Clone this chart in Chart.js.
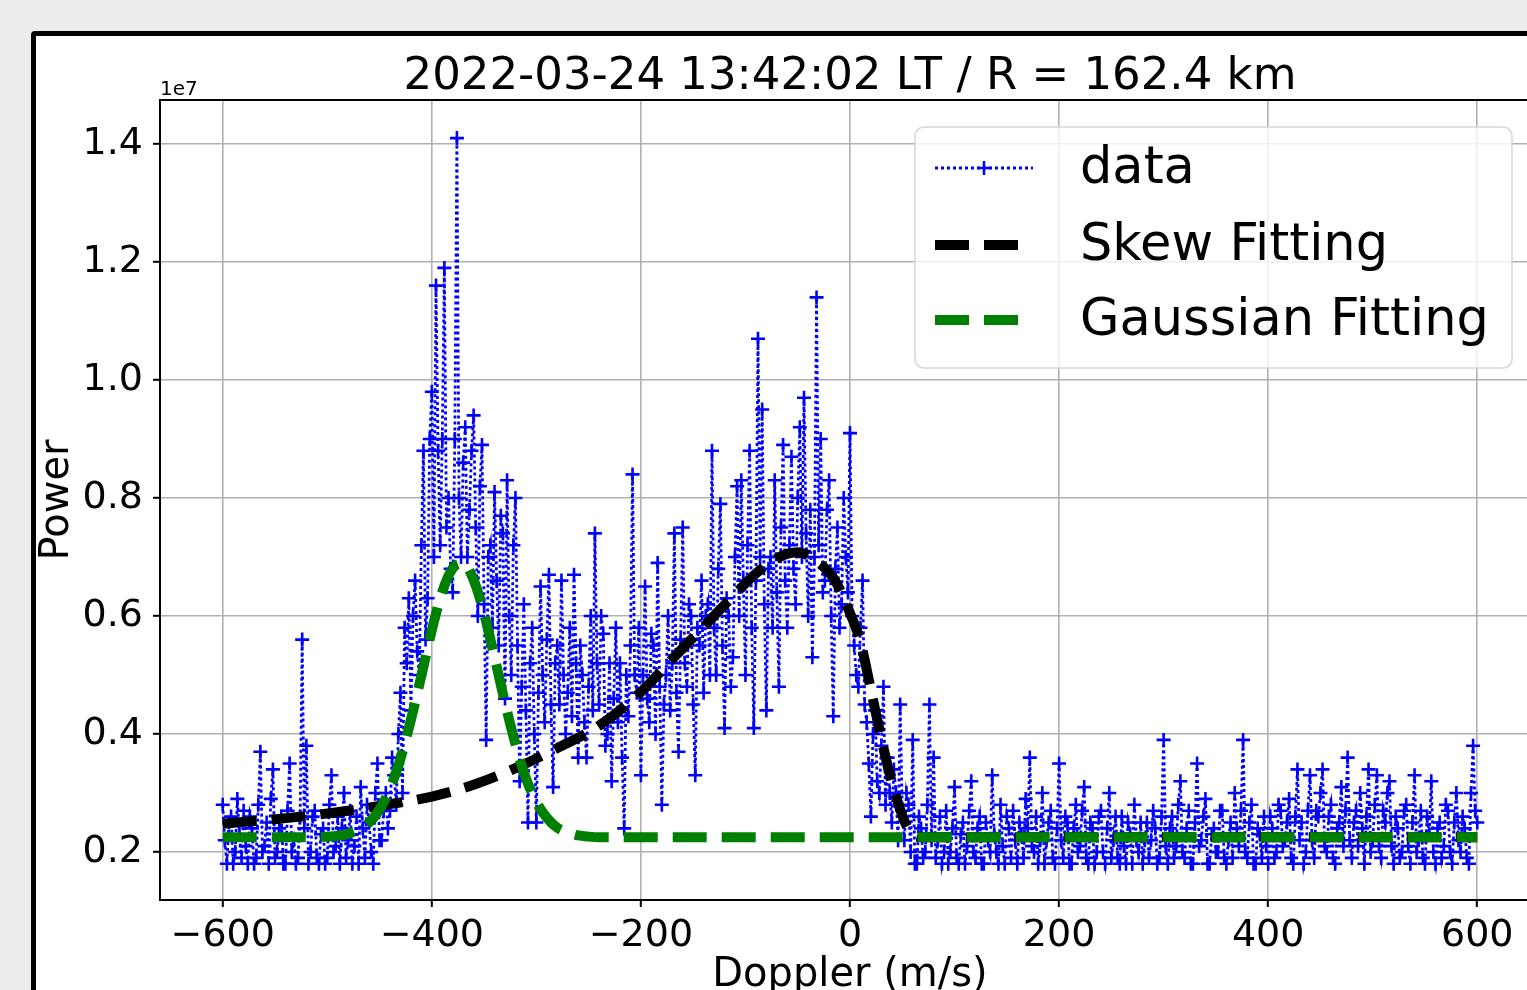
<!DOCTYPE html>
<html><head><meta charset="utf-8">
<script src="https://cdn.jsdelivr.net/npm/chart.js@4.4.0/dist/chart.umd.min.js"></script>
<style>
html,body{margin:0;padding:0;width:1527px;height:990px;overflow:hidden;background:#ececec;}
#frame{position:absolute;left:31px;top:31px;width:1700px;height:1100px;border:5px solid #000;border-radius:4px;background:#fff;box-sizing:border-box;}
#wrap{position:absolute;left:0;top:0;width:1600px;height:1000px;}
</style></head><body>
<div id="frame"></div>
<div id="wrap"><canvas id="c" width="1600" height="1000"></canvas></div>
<script>
const titleText = '2022-03-24 13:42:02 LT / R = 162.4 km';
const xLabel = 'Doppler (m/s)';
const yLabel = 'Power';
const yOffsetText = '1e7';
const xTicks = [-600, -400, -200, 0, 200, 400, 600];
const yTicks = [0.2, 0.4, 0.6, 0.8, 1.0, 1.2, 1.4];

const doppler = [
-600,-598,-596,-594,-592,-590,-588,-586,-584,-582,-580,-578,-576,-574,-572,-570,-568,-566,-564,-562,
-560,-558,-556,-554,-552,-550,-548,-546,-544,-542,-540,-538,-536,-534,-532,-530,-528,-526,-524,-522,
-520,-518,-516,-514,-512,-510,-508,-506,-504,-502,-500,-498,-496,-494,-492,-490,-488,-486,-484,-482,
-480,-478,-476,-474,-472,-470,-468,-466,-464,-462,-460,-458,-456,-454,-452,-450,-448,-446,-444,-442,
-440,-438,-436,-434,-432,-430,-428,-426,-424,-422,-420,-418,-416,-414,-412,-410,-408,-406,-404,-402,
-400,-398,-396,-394,-392,-390,-388,-386,-384,-382,-380,-378,-376,-374,-372,-370,-368,-366,-364,-362,
-360,-358,-356,-354,-352,-350,-348,-346,-344,-342,-340,-338,-336,-334,-332,-330,-328,-326,-324,-322,
-320,-318,-316,-314,-312,-310,-308,-306,-304,-302,-300,-298,-296,-294,-292,-290,-288,-286,-284,-282,
-280,-278,-276,-274,-272,-270,-268,-266,-264,-262,-260,-258,-256,-254,-252,-250,-248,-246,-244,-242,
-240,-238,-236,-234,-232,-230,-228,-226,-224,-222,-220,-218,-216,-214,-212,-210,-208,-206,-204,-202,
-200,-198,-196,-194,-192,-190,-188,-186,-184,-182,-180,-178,-176,-174,-172,-170,-168,-166,-164,-162,
-160,-158,-156,-154,-152,-150,-148,-146,-144,-142,-140,-138,-136,-134,-132,-130,-128,-126,-124,-122,
-120,-118,-116,-114,-112,-110,-108,-106,-104,-102,-100,-98,-96,-94,-92,-90,-88,-86,-84,-82,
-80,-78,-76,-74,-72,-70,-68,-66,-64,-62,-60,-58,-56,-54,-52,-50,-48,-46,-44,-42,
-40,-38,-36,-34,-32,-30,-28,-26,-24,-22,-20,-18,-16,-14,-12,-10,-8,-6,-4,-2,
0,2,4,6,8,10,12,14,16,18,20,22,24,26,28,30,32,34,36,38,
40,42,44,46,48,50,52,54,56,58,60,62,64,66,68,70,72,74,76,78,
80,82,84,86,88,90,92,94,96,98,100,102,104,106,108,110,112,114,116,118,
120,122,124,126,128,130,132,134,136,138,140,142,144,146,148,150,152,154,156,158,
160,162,164,166,168,170,172,174,176,178,180,182,184,186,188,190,192,194,196,198,
200,202,204,206,208,210,212,214,216,218,220,222,224,226,228,230,232,234,236,238,
240,242,244,246,248,250,252,254,256,258,260,262,264,266,268,270,272,274,276,278,
280,282,284,286,288,290,292,294,296,298,300,302,304,306,308,310,312,314,316,318,
320,322,324,326,328,330,332,334,336,338,340,342,344,346,348,350,352,354,356,358,
360,362,364,366,368,370,372,374,376,378,380,382,384,386,388,390,392,394,396,398,
400,402,404,406,408,410,412,414,416,418,420,422,424,426,428,430,432,434,436,438,
440,442,444,446,448,450,452,454,456,458,460,462,464,466,468,470,472,474,476,478,
480,482,484,486,488,490,492,494,496,498,500,502,504,506,508,510,512,514,516,518,
520,522,524,526,528,530,532,534,536,538,540,542,544,546,548,550,552,554,556,558,
560,562,564,566,568,570,572,574,576,578,580,582,584,586,588,590,592,594,596,598,
600];

const power = [
0.28,0.22,0.18,0.25,0.26,0.18,0.20,0.29,0.23,0.19,0.27,0.21,0.18,0.26,0.24,0.18,0.19,0.28,0.37,0.20,
0.21,0.25,0.18,0.29,0.34,0.19,0.20,0.24,0.26,0.18,0.18,0.27,0.35,0.20,0.22,0.18,0.19,0.26,0.56,0.24,
0.38,0.18,0.20,0.26,0.27,0.19,0.18,0.23,0.24,0.18,0.19,0.28,0.33,0.20,0.21,0.26,0.18,0.24,0.30,0.19,
0.22,0.27,0.18,0.21,0.26,0.18,0.31,0.24,0.19,0.28,0.25,0.20,0.18,0.30,0.35,0.22,0.22,0.27,0.30,0.24,
0.27,0.36,0.33,0.28,0.40,0.47,0.30,0.58,0.52,0.63,0.44,0.60,0.66,0.54,0.50,0.72,0.88,0.56,0.63,0.90,
0.98,0.70,1.16,0.88,0.72,0.90,1.19,0.75,0.80,0.68,0.64,0.90,1.41,0.80,0.70,0.86,0.92,0.70,0.78,0.88,
0.94,0.75,0.60,0.82,0.89,0.62,0.39,0.70,0.72,0.58,0.81,0.66,0.55,0.77,0.74,0.46,0.83,0.60,0.50,0.72,
0.80,0.55,0.32,0.48,0.62,0.44,0.25,0.52,0.58,0.40,0.25,0.47,0.65,0.50,0.42,0.56,0.67,0.45,0.31,0.52,
0.55,0.45,0.66,0.50,0.40,0.47,0.58,0.43,0.67,0.52,0.36,0.55,0.50,0.42,0.36,0.48,0.60,0.44,0.74,0.52,
0.45,0.60,0.57,0.38,0.40,0.52,0.32,0.46,0.58,0.42,0.52,0.36,0.24,0.50,0.43,0.55,0.84,0.50,0.47,0.58,
0.33,0.50,0.65,0.46,0.42,0.57,0.55,0.40,0.69,0.48,0.28,0.45,0.50,0.60,0.44,0.52,0.74,0.47,0.37,0.56,
0.75,0.52,0.48,0.62,0.60,0.45,0.33,0.58,0.55,0.66,0.47,0.60,0.62,0.50,0.88,0.58,0.50,0.68,0.79,0.55,
0.41,0.63,0.60,0.48,0.53,0.70,0.82,0.60,0.83,0.66,0.50,0.72,0.88,0.58,0.41,0.66,1.07,0.70,0.95,0.62,
0.44,0.68,0.70,0.58,0.83,0.64,0.48,0.75,0.89,0.66,0.58,0.72,0.87,0.68,0.62,0.80,0.92,0.70,0.97,0.74,
0.60,0.78,0.53,0.70,1.14,0.72,0.90,0.64,0.66,0.78,0.83,0.60,0.43,0.68,0.75,0.58,0.62,0.80,0.70,0.64,
0.91,0.60,0.55,0.50,0.48,0.58,0.66,0.45,0.42,0.35,0.26,0.40,0.44,0.32,0.30,0.38,0.48,0.28,0.36,0.30,
0.25,0.34,0.30,0.22,0.45,0.27,0.22,0.30,0.28,0.20,0.39,0.18,0.18,0.26,0.24,0.19,0.20,0.28,0.45,0.22,
0.36,0.19,0.22,0.26,0.18,0.20,0.27,0.18,0.20,0.24,0.31,0.19,0.18,0.23,0.25,0.18,0.21,0.27,0.32,0.20,
0.19,0.24,0.26,0.18,0.18,0.25,0.22,0.20,0.33,0.23,0.20,0.18,0.28,0.21,0.18,0.26,0.24,0.19,0.27,0.22,
0.18,0.25,0.23,0.19,0.29,0.24,0.36,0.21,0.20,0.26,0.18,0.22,0.30,0.18,0.22,0.25,0.27,0.19,0.18,0.24,
0.35,0.22,0.19,0.26,0.25,0.18,0.18,0.24,0.28,0.20,0.21,0.27,0.31,0.19,0.18,0.25,0.24,0.18,0.20,0.26,
0.27,0.20,0.18,0.24,0.30,0.19,0.22,0.26,0.19,0.18,0.26,0.21,0.18,0.25,0.23,0.18,0.28,0.22,0.20,0.25,
0.18,0.22,0.25,0.19,0.22,0.27,0.24,0.18,0.19,0.26,0.39,0.21,0.18,0.24,0.26,0.19,0.21,0.28,0.32,0.20,
0.19,0.24,0.27,0.18,0.18,0.25,0.35,0.21,0.22,0.26,0.29,0.18,0.18,0.23,0.24,0.20,0.20,0.27,0.27,0.19,
0.18,0.22,0.25,0.19,0.30,0.24,0.21,0.27,0.39,0.20,0.19,0.25,0.28,0.18,0.18,0.24,0.23,0.19,0.26,0.21,
0.18,0.26,0.24,0.19,0.20,0.28,0.27,0.21,0.22,0.25,0.29,0.19,0.18,0.26,0.34,0.22,0.25,0.18,0.20,0.27,
0.33,0.22,0.19,0.27,0.26,0.30,0.34,0.21,0.20,0.26,0.28,0.19,0.18,0.24,0.25,0.31,0.21,0.27,0.36,0.22,
0.19,0.25,0.27,0.21,0.30,0.24,0.18,0.26,0.34,0.20,0.22,0.28,0.33,0.21,0.19,0.27,0.25,0.30,0.32,0.21,
0.18,0.26,0.24,0.19,0.20,0.27,0.28,0.21,0.18,0.25,0.33,0.20,0.22,0.27,0.19,0.18,0.26,0.23,0.32,0.20,
0.18,0.24,0.25,0.19,0.21,0.28,0.27,0.20,0.18,0.25,0.30,0.22,0.20,0.26,0.24,0.19,0.18,0.30,0.38,0.27,
0.25];

const skewX = [-600,-560,-520,-480,-440,-400,-360,-320,-280,-240,-200,-170,-140,-110,-90,-70,-50,-30,-15,0,10,20,30,40,50,56,62,70,100,200,300,400,500,600];
const skewY = [0.248,0.254,0.261,0.270,0.281,0.294,0.314,0.342,0.376,0.414,0.471,0.527,0.582,0.637,0.672,0.698,0.708,0.690,0.662,0.605,0.556,0.475,0.392,0.318,0.262,0.238,0.227,0.225,0.225,0.225,0.225,0.225,0.225,0.225];

const gaussX = [-600,-540,-500,-480,-460,-450,-440,-430,-420,-410,-400,-390,-380,-370,-360,-350,-340,-330,-320,-310,-300,-290,-280,-270,-260,-250,-240,-200,0,200,400,600];
const gaussY = [0.225,0.225,0.226,0.231,0.250,0.272,0.307,0.358,0.424,0.499,0.576,0.641,0.681,0.689,0.661,0.604,0.530,0.453,0.383,0.325,0.285,0.258,0.241,0.233,0.228,0.226,0.225,0.225,0.225,0.225,0.225,0.225];

const seriesNames = ['data', 'Skew Fitting', 'Gaussian Fitting'];

const FONT = 'DejaVu Sans';
Chart.defaults.font.family = FONT;
Chart.defaults.color = '#000';

const pts = (xs, ys) => xs.map((x, i) => ({x: x, y: ys[i]}));

const framePlugin = {
  id: 'framePlugin',
  afterDatasetsDraw(chart) {
    const {ctx, chartArea: a} = chart;
    ctx.save();
    ctx.strokeStyle = '#000';
    ctx.lineWidth = 2;
    ctx.beginPath();
    ctx.moveTo(a.left, a.top); ctx.lineTo(a.right, a.top); ctx.lineTo(a.right, a.bottom);
    ctx.stroke();
    ctx.font = '20px "' + FONT + '"';
    ctx.fillStyle = '#000';
    ctx.textAlign = 'left';
    ctx.textBaseline = 'alphabetic';
    ctx.fillText(yOffsetText, a.left, a.top - 5);
    ctx.restore();
  }
};

const legendPlugin = {
  id: 'mplLegend',
  afterDraw(chart) {
    const {ctx, chartArea: a} = chart;
    const ds = chart.data.datasets;
    const w = 597, h = 241;
    const x0 = a.right - 28 - w, y0 = a.top + 27;
    ctx.save();
    ctx.beginPath();
    ctx.roundRect(x0, y0, w, h, 9);
    ctx.fillStyle = 'rgba(255,255,255,0.8)';
    ctx.fill();
    ctx.strokeStyle = '#d6d6d6';
    ctx.lineWidth = 1.5;
    ctx.stroke();
    const rows = [y0 + 41, y0 + 118, y0 + 193];
    const lx0 = x0 + 20, lx1 = x0 + 118;
    ctx.strokeStyle = ds[0].borderColor;
    ctx.lineWidth = ds[0].borderWidth;
    ctx.setLineDash(ds[0].borderDash);
    ctx.beginPath(); ctx.moveTo(lx0, rows[0]); ctx.lineTo(lx1, rows[0]); ctx.stroke();
    ctx.setLineDash([]);
    const mx = (lx0 + lx1) / 2, r = ds[0].pointRadius;
    ctx.lineWidth = ds[0].pointBorderWidth;
    ctx.beginPath(); ctx.moveTo(mx - r, rows[0]); ctx.lineTo(mx + r, rows[0]);
    ctx.moveTo(mx, rows[0] - r); ctx.lineTo(mx, rows[0] + r); ctx.stroke();
    for (let k = 1; k < 3; k++) {
      ctx.strokeStyle = ds[k].borderColor;
      ctx.lineWidth = ds[k].borderWidth;
      ctx.setLineDash(ds[k].borderDash);
      ctx.beginPath(); ctx.moveTo(lx0, rows[k]); ctx.lineTo(lx1, rows[k]); ctx.stroke();
    }
    ctx.setLineDash([]);
    ctx.fillStyle = '#000';
    ctx.font = '51px "' + FONT + '"';
    ctx.textAlign = 'left';
    ctx.textBaseline = 'middle';
    for (let k = 0; k < 3; k++) ctx.fillText(ds[k].label, x0 + 165, rows[k] + 2);
    ctx.restore();
  }
};

new Chart(document.getElementById('c'), {
  type: 'line',
  data: {
    datasets: [
      {label: seriesNames[0], data: pts(doppler, power), borderColor: '#0000ff', borderWidth: 2.8, borderDash: [3, 3],
       pointStyle: 'cross', pointRadius: 7, pointBorderWidth: 2.6, pointBorderColor: '#0000ff', pointHoverRadius: 7,
       tension: 0, fill: false, order: 3},
      {label: seriesNames[1], data: pts(skewX, skewY), borderColor: '#000000', borderWidth: 10, borderDash: [34, 15],
       pointRadius: 0, cubicInterpolationMode: 'monotone', fill: false, order: 2},
      {label: seriesNames[2], data: pts(gaussX, gaussY), borderColor: '#008000', borderWidth: 10, borderDash: [34, 15],
       pointRadius: 0, cubicInterpolationMode: 'monotone', fill: false, order: 1}
    ]
  },
  options: {
    responsive: false,
    animation: false,
    devicePixelRatio: 1,
    layout: {padding: {left: 0, right: 60, top: 0, bottom: 0}},
    plugins: {
      legend: {display: false},
      tooltip: {enabled: false},
      title: {display: true, text: titleText, fullSize: false, color: '#000',
              font: {size: 45, weight: 'normal', lineHeight: 1}, padding: {top: 55, bottom: 0}}
    },
    scales: {
      x: {
        type: 'linear', min: -660, max: 660,
        afterBuildTicks: s => { s.ticks = xTicks.map(v => ({value: v})); },
        afterFit: s => { s.height = 100; },
        ticks: {autoSkip: false, maxRotation: 0, padding: 6, color: '#000', font: {size: 38},
                callback: v => String(v).replace('-', '\u2212')},
        grid: {color: '#b0b0b0', lineWidth: 1.6, tickLength: 7, tickColor: '#000', tickWidth: 2},
        border: {color: '#000', width: 2},
        title: {display: true, text: xLabel, color: '#000', font: {size: 40}, padding: {top: 0, bottom: 0}}
      },
      y: {
        type: 'linear', min: 0.1186, max: 1.4746,
        afterBuildTicks: s => { s.ticks = yTicks.map(v => ({value: v})); },
        afterFit: s => { s.width = 160; },
        ticks: {autoSkip: false, padding: 10, color: '#000', font: {size: 38},
                callback: v => Number(v).toFixed(1)},
        grid: {color: '#b0b0b0', lineWidth: 1.6, tickLength: 7, tickColor: '#000', tickWidth: 2},
        border: {color: '#000', width: 2},
        title: {display: true, text: yLabel, color: '#000', font: {size: 40}, padding: {top: 34, bottom: 0}}
      }
    }
  },
  plugins: [framePlugin, legendPlugin]
});
</script>
</body></html>
